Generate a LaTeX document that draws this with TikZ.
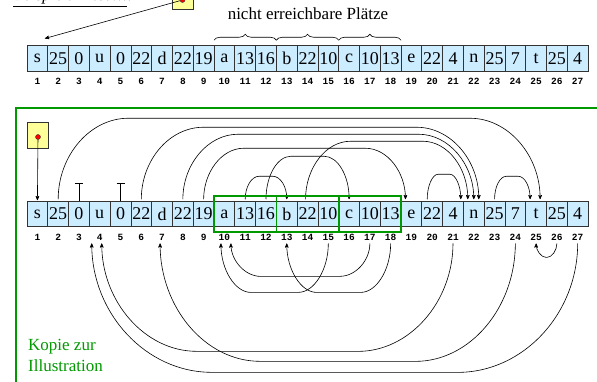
\documentclass[tikz,border=0pt]{standalone}
\usepackage{fontspec}
\setmainfont{Liberation Serif}
\setmonofont{Liberation Mono}
\usetikzlibrary{arrows,positioning,calc,fit,decorations.pathreplacing}
\definecolor{cellblue}{RGB}{204,236,255}
\definecolor{boxyellow}{RGB}{255,255,153}
\definecolor{frgreen}{RGB}{0,153,0}
\def\cellvals{25,0,u,0,22,d,22,19,a,13,16,b,22,10,c,10,13,e,22,4,n,25,7,t,25,4}

\begin{document}
\begin{tikzpicture}[x=1pt,y=-1pt,>=stealth',node distance=20.78pt,on grid]
\tikzstyle{cell} = [draw=black!80,fill=cellblue,line width=0.7pt,minimum width=20.78pt,minimum height=25.5pt,inner sep=0pt,outer sep=0pt,font=\fontsize{18}{18}\selectfont]
\tikzstyle{idx} = [inner sep=1pt,font=\ttfamily\bfseries\fontsize{9.5}{9.5}\selectfont]
\tikzstyle{ptrbox} = [draw=black!80,fill=boxyellow,line width=0.7pt,minimum width=21pt,minimum height=26pt,inner sep=0pt]
\tikzstyle{dot} = [circle,draw=black!80,fill=red,inner sep=0pt,minimum size=5pt]
\tikzstyle{grnbox} = [draw=frgreen,line width=1.6pt,inner xsep=0pt,inner ysep=5.5pt]
\tikzset{ptr/.style={->,line width=0.6pt,shorten >=2pt,shorten <=2pt}}
\useasboundingbox (0,0) rectangle (597,382);

% original list
\node[anchor=base west,inner sep=0pt,font=\itshape\fontsize{17}{17}\selectfont] (title) at (13,1) {\underline{Beispiel: M.S.W.}:};
\node[cell] (t1) at (37.4,58.5) {s};
\foreach \v [count=\i from 2] in \cellvals {
  \pgfmathtruncatemacro\p{\i-1}
  \node[cell] (t\i) [right=of t\p] {\v};
}
\foreach \i in {1,...,27}
  \node[idx] (ti\i) [below=22.5pt of t\i] {\i};

\foreach \a/\b in {10/12,13/15,16/18}
  \draw[line width=0.6pt,decorate,decoration={brace,amplitude=6pt}] ([yshift=5.5pt]t\a.north west) -- ([yshift=5.5pt]t\b.north east);
\node[anchor=base,font=\fontsize{17}{17}\selectfont] (nrp) at (308,20) {nicht erreichbare Plätze};

\node[ptrbox] (ytop) at (182.5,-4) {};
\node[dot] (dtop) at (182.5,0) {};
\coordinate (tgt) at (43,39);
\draw[ptr,shorten <=0pt] (dtop) -- (tgt);

% copy
\draw[frgreen,line width=1.6pt] (16,390) |- (600,108);
\node[anchor=north west,align=left,inner sep=0pt,text=frgreen,font=\fontsize{17}{21}\selectfont] (kopie) at (28,339) {Kopie zur\\Illustration};

\node[cell] (c1) at (37.4,214) {s};
\foreach \v [count=\i from 2] in \cellvals {
  \pgfmathtruncatemacro\p{\i-1}
  \node[cell] (c\i) [right=of c\p] {\v};
}
\foreach \i in {1,...,27}
  \node[idx] (ci\i) [below=23pt of c\i] {\i};

\node[ptrbox] (ybot) at (37.5,135) {};
\node[dot] (dbot) at (38,137) {};
\draw[ptr,shorten <=0pt,shorten >=1pt] (dbot) -- (c1.north);

% null pointers
\foreach \i in {3,5}
  \draw[line width=0.7pt] (c\i.north) -- ++(0,-18) ++(-4,0) -- ++(8,0);

% forward pointers
\coordinate (s20) at ([xshift=-5pt]c20.north);
\coordinate (s14) at ([xshift=-2pt]c14.north);
\coordinate (e25a) at ([xshift=4pt]c25.north);
\coordinate (e25b) at ([xshift=-6pt]c25.north);
\coordinate (e22a) at ([xshift=5pt]c22.north);
\coordinate (e22c) at ([xshift=-6pt]c22.north);
\coordinate (e22d) at ([xshift=-13pt]c22.north);
\coordinate (e19) at ([xshift=-6pt]c19.north);
\draw[ptr] (c2.north) .. controls +(0,-46) and +(-38,0) .. ++(70,-83) -- ($(e25a)+(-70,-83)$) .. controls +(38,0) and +(0,-46) .. (e25a);
\draw[ptr] (c6.north) .. controls +(0,-41) and +(-34,0) .. ++(62,-74) -- ($(e22a)+(-62,-74)$) .. controls +(34,0) and +(0,-41) .. (e22a);
\draw[ptr] (c8.north) .. controls +(0,-37) and +(-30,0) .. ++(55,-67) -- ($(c22.north)+(-55,-67)$) .. controls +(30,0) and +(0,-37) .. (c22.north);
\draw[ptr] (s14) .. controls +(0,-33) and +(-25,0) .. ++(45,-60) -- ($(e22c)+(-45,-60)$) .. controls +(25,0) and +(0,-33) .. (e22c);
\draw[ptr] (c9.north) .. controls +(0,-29) and +(-22,0) .. ++(40,-53) -- ($(e19)+(-40,-53)$) .. controls +(22,0) and +(0,-29) .. (e19);
\draw[ptr] (c12.north) .. controls +(0,-25) and +(-14,0) .. ++(25,-45) -- ($(c16.north)+(-25,-45)$) .. controls +(14,0) and +(0,-25) .. (c16.north);
\draw[ptr] (c11.north) .. controls +(0,-14) and +(-8,0) .. ++(14,-25) -- ($(c13.north)+(-14,-25)$) .. controls +(8,0) and +(0,-14) .. (c13.north);
\draw[ptr] (s20) .. controls +(0,-15) and +(-6,0) .. ++(11,-27) -- ($(e22d)+(-11,-27)$) .. controls +(6,0) and +(0,-15) .. (e22d);
\draw[ptr] (c23.north) .. controls +(0,-14) and +(-7,0) .. ++(12,-25) -- ($(e25b)+(-12,-25)$) .. controls +(7,0) and +(0,-14) .. (e25b);

% backward pointers
\coordinate (a10a) at ([xshift=-3.5pt]ci10.south);
\coordinate (a10b) at ([xshift=6.5pt]ci10.south);
\coordinate (a4a) at ([xshift=2pt]ci4.south);
\coordinate (a4b) at ([xshift=-8pt]ci4.south);
\coordinate (a7) at ([xshift=-2pt]ci7.south);
\draw[ptr] (ci15.south) .. controls +(0,28) and +(16,0) .. ++(-30,51) -- ($(a10a)+(30,51)$) .. controls +(-16,0) and +(0,28) .. (a10a);
\draw[ptr] (ci17.south) .. controls +(0,19) and +(16,0) .. ++(-30,35) -- ($(a10b)+(30,35)$) .. controls +(-16,0) and +(0,19) .. (a10b);
\draw[ptr] (ci18.south) .. controls +(0,28) and +(16,0) .. ++(-30,51) -- ($(ci13.south)+(30,51)$) .. controls +(-16,0) and +(0,28) .. (ci13.south);
\draw[ptr] (ci21.south) .. controls +(0,60) and +(52,0) .. ++(-95,110) -- ($(a4a)+(95,110)$) .. controls +(-52,0) and +(0,60) .. (a4a);
\draw[ptr] (ci24.south) .. controls +(0,66) and +(55,0) .. ++(-100,120) -- ($(a7)+(100,120)$) .. controls +(-55,0) and +(0,66) .. (a7);
\draw[ptr] (ci27.south) .. controls +(0,72) and +(66,0) .. ++(-120,131) -- ($(a4b)+(120,131)$) .. controls +(-66,0) and +(0,72) .. (a4b);
\draw[ptr] (ci26.south) .. controls +(0,9) and +(5,0) .. ++(-10,16) -- ($(ci25.south)+(10,16)$) .. controls +(-5,0) and +(0,9) .. (ci25.south);

\node[grnbox,fit=(c10)(c12)] (g1) {};
\node[grnbox,fit=(c13)(c15)] (g2) {};
\node[grnbox,fit=(c16)(c18)] (g3) {};
\end{tikzpicture}
\end{document}
